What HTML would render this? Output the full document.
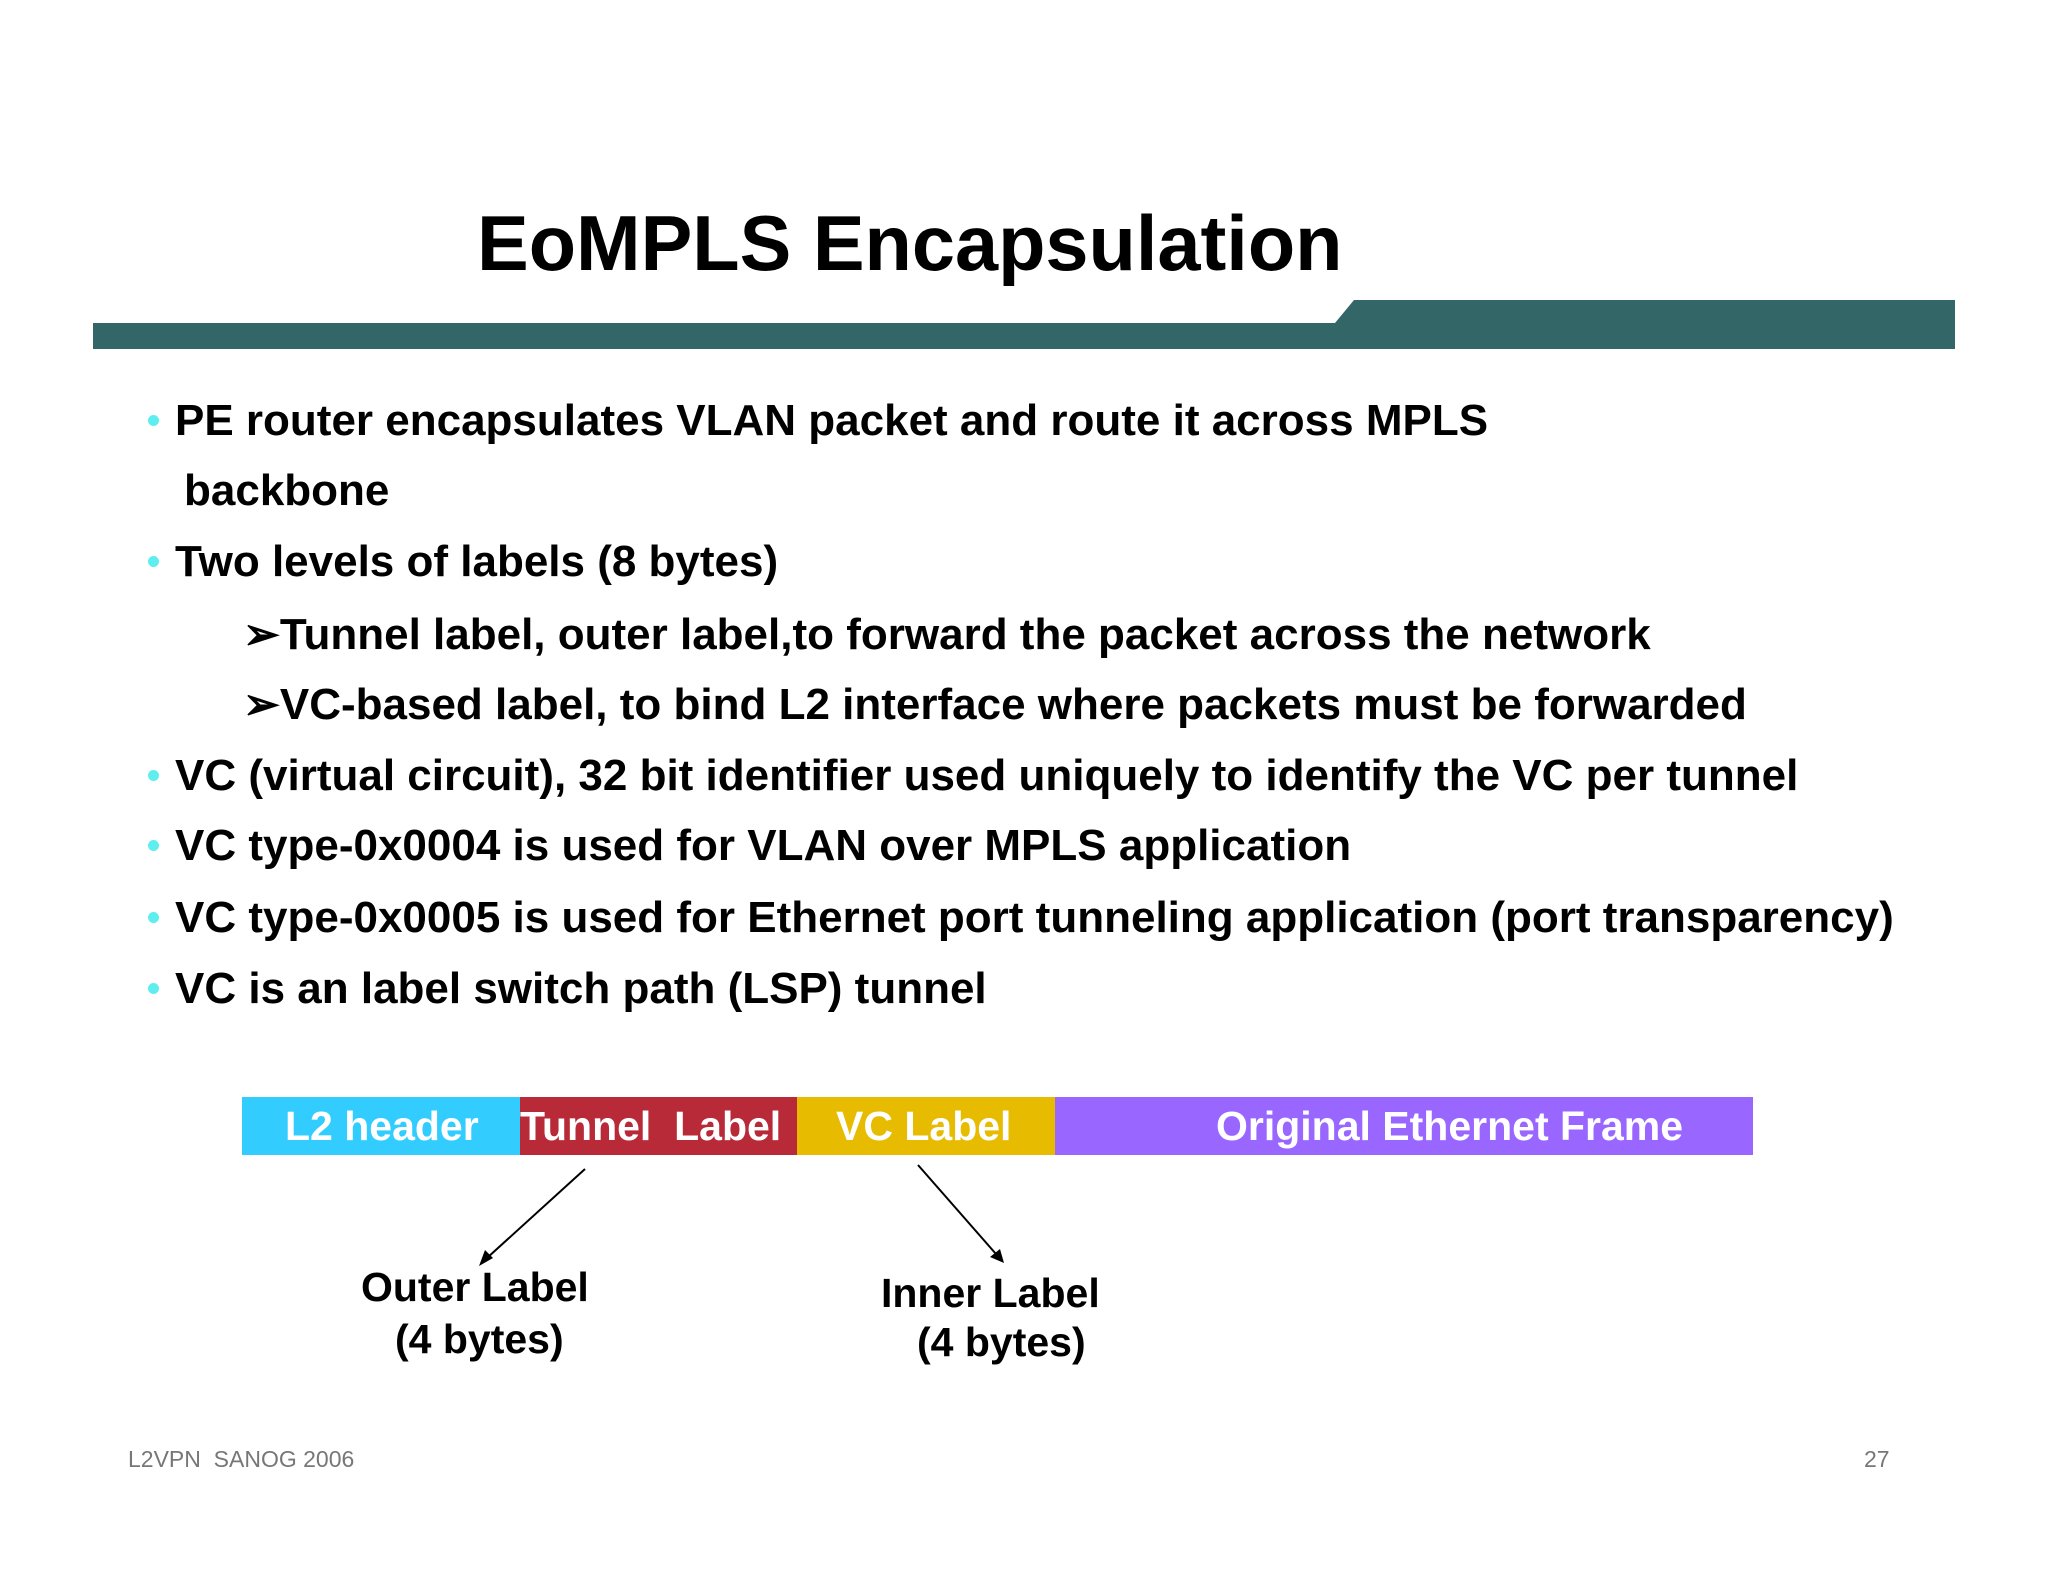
<!DOCTYPE html>
<html><head><meta charset="utf-8"><style>
body{margin:0;width:2048px;height:1582px;background:#fff;position:relative;overflow:hidden;font-family:"Liberation Sans",sans-serif;}
.t{position:absolute;white-space:nowrap;font-weight:bold;color:#000;}
.b{font-size:44px;}
.dot{position:absolute;width:11px;height:11px;border-radius:50%;background:#5eeef0;left:148px;}
.seg{position:absolute;top:1097px;height:58px;color:#fff;font-weight:bold;font-size:41px;line-height:58px;white-space:nowrap;}
.ft{position:absolute;color:#777;font-size:23px;}
</style></head><body>
<div class="t" style="left:477px;top:200px;font-size:77.5px;">EoMPLS Encapsulation</div>
<svg style="position:absolute;left:0;top:0" width="2048" height="1582">
<polygon points="93,323 1335,323 1354,300 1955,300 1955,349 93,349" fill="#336666"/>
<line x1="585" y1="1169" x2="487" y2="1258" stroke="#000" stroke-width="2"/>
<polygon points="479,1266 485,1250 493,1258" fill="#000"/>
<line x1="918" y1="1165" x2="996" y2="1254" stroke="#000" stroke-width="2"/>
<polygon points="1004,1263 990,1257 1000,1249" fill="#000"/>
</svg>
<div class="dot" style="top:415px"></div>
<div class="t b" style="left:175px;top:396px">PE router encapsulates VLAN packet and route it across MPLS</div>
<div class="t b" style="left:184px;top:466px">backbone</div>
<div class="dot" style="top:556px"></div>
<div class="t b" style="left:175px;top:537px">Two levels of labels (8 bytes)</div>
<div class="t b" style="left:243px;top:609px">➢Tunnel label, outer label,to forward the packet across the network</div>
<div class="t b" style="left:243px;top:679px">➢VC-based label, to bind L2 interface where packets must be forwarded</div>
<div class="dot" style="top:770px"></div>
<div class="t b" style="left:175px;top:751px">VC (virtual circuit), 32 bit identifier used uniquely to identify the VC per tunnel</div>
<div class="dot" style="top:840px"></div>
<div class="t b" style="left:175px;top:821px">VC type-0x0004 is used for VLAN over MPLS application</div>
<div class="dot" style="top:912px"></div>
<div class="t b" style="left:175px;top:893px">VC type-0x0005 is used for Ethernet port tunneling application (port transparency)</div>
<div class="dot" style="top:983px"></div>
<div class="t b" style="left:175px;top:964px">VC is an label switch path (LSP) tunnel</div>
<div class="seg" style="left:242px;width:278px;background:#33ccff;"><span style="margin-left:43px">L2 header</span></div>
<div class="seg" style="left:520px;width:277px;background:#b82a38;">Tunnel&nbsp; Label</div>
<div class="seg" style="left:797px;width:258px;background:#e6bb00;"><span style="margin-left:39px">VC Label</span></div>
<div class="seg" style="left:1055px;width:698px;background:#9966ff;"><span style="margin-left:161px">Original Ethernet Frame</span></div>
<div class="t b" style="left:361px;top:1264px;font-size:41px">Outer Label</div>
<div class="t b" style="left:395px;top:1316px;font-size:41px">(4 bytes)</div>
<div class="t b" style="left:881px;top:1270px;font-size:41px">Inner Label</div>
<div class="t b" style="left:917px;top:1319px;font-size:41px">(4 bytes)</div>
<div class="ft" style="left:128px;top:1446px">L2VPN&nbsp; SANOG 2006</div>
<div class="ft" style="left:1864px;top:1446px">27</div>
</body></html>
